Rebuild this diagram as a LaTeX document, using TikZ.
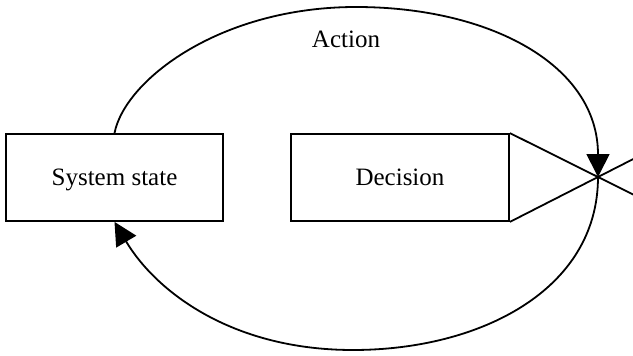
\documentclass[tikz,border=0pt]{standalone}
\usepackage{fontspec}
\setmainfont{Liberation Serif}
\usetikzlibrary{arrows.meta,calc}
\tikzset{
  box/.style={draw, line width=1.8pt, inner sep=0pt, minimum width=217pt,
    minimum height=87pt, text depth=0pt, font=\fontsize{25}{30}\selectfont},
  link/.style={line width=1.8pt},
  flow/.style={line width=1.8pt, -{Triangle[length=23pt,width=23pt]}},
  caption/.style={font=\fontsize{25}{30}\selectfont, inner sep=0pt}
}
\begin{document}
\begin{tikzpicture}[x=1pt,y=-1pt]
  \useasboundingbox (0,0) rectangle (633,356);
  \clip (0,0) rectangle (633,356);
  % the two blocks
  \node[box] (sys) at (114.5,177.5) {System state};
  \node[box, minimum width=218pt] (dec) at (400,177.5) {Decision};
  % where the outputs of the decision block meet
  \coordinate (x) at (598,177);
  \coordinate (top) at (356,7);
  \coordinate (bot) at (353,350);
  \node[caption, anchor=base] (act) at (346,48) {Action};
  % crossing lines leaving the decision block
  \draw[link] (dec.north east) -- ($(dec.north east)!1.5!(x)$);
  \draw[link] (dec.south east) -- ($(dec.south east)!1.5!(x)$);
  % action loop
  \draw[flow] (sys.north) .. controls (125,80) and (220,7) .. (top)
              .. controls (490,7) and (598,65) .. (x);
  % feedback loop
  \draw[flow] (x) .. controls (598,290) and (480,350) .. (bot)
              .. controls (230,350) and (155,290) .. (sys.south);
\end{tikzpicture}
\end{document}
